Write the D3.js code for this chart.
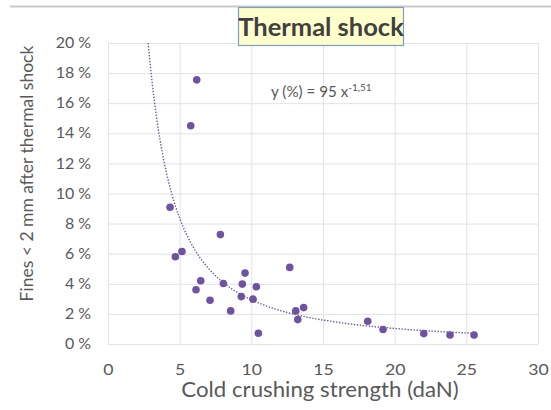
<!DOCTYPE html>
<html>
<head>
<meta charset="utf-8">
<script src="https://cdn.jsdelivr.net/npm/d3@7"></script>
<style>
  html, body { margin: 0; padding: 0; background: #fff; }
  svg { display: block; font-family: Lato, Calibri, "Open Sans", "Noto Sans", sans-serif; }
</style>
</head>
<body>
<svg id="chart" width="551" height="410"></svg>
<script>
// Cold crushing strength (daN) of each sample
const strength = [4.33, 6.19, 5.77, 4.70, 5.16, 7.84, 6.47, 6.14, 7.12, 8.05, 8.56, 9.56, 9.37, 9.30,
                  10.35, 10.12, 10.49, 12.68, 13.10, 13.65, 13.24, 18.12, 19.19, 22.03, 23.86, 25.54];
// Fines < 2 mm after thermal shock (%)
const fines = [9.09, 17.55, 14.5, 5.8, 6.15, 7.27, 4.2, 3.6, 2.91, 4.02, 2.2, 4.71, 3.98, 3.15,
               3.8, 2.98, 0.71, 5.09, 2.2, 2.42, 1.62, 1.51, 0.96, 0.69, 0.6, 0.6];
// Power-law fit y = a * x^b
const fitA = 95;
const fitB = -1.51;
const xTicks = [0, 5, 10, 15, 20, 25, 30];
const yTicks = [0, 2, 4, 6, 8, 10, 12, 14, 16, 18, 20];

const svg = d3.select("#chart");
const plotLeft = 108, plotRight = 538, plotTop = 43, plotBottom = 344;
const textGrey = "#595959";
const yTickStretch = 1.1;
const xTickStretch = 1.22;

const x = d3.scaleLinear().domain([0, 30]).range([plotLeft, plotRight]);
const y = d3.scaleLinear().domain([0, 20]).range([plotBottom, plotTop]);

// thin rule along the top of the slide
svg.append("line")
  .attr("x1", 10).attr("x2", 551).attr("y1", 6.5).attr("y2", 6.5)
  .attr("stroke", "#c9c9c9").attr("stroke-width", 2);

// grid
const grid = svg.append("g");
grid.selectAll("line.h").data(yTicks).join("line")
  .attr("x1", plotLeft).attr("x2", plotRight)
  .attr("y1", d => y(d) + 0.5).attr("y2", d => y(d) + 0.5)
  .attr("stroke", "#e2e2e6").attr("stroke-width", 1);
grid.selectAll("line.v").data(xTicks).join("line")
  .attr("y1", plotTop).attr("y2", plotBottom)
  .attr("x1", d => x(d) + 0.5).attr("x2", d => x(d) + 0.5)
  .attr("stroke", "#e2e2e6").attr("stroke-width", 1);

// axes (labels only, slightly widened glyphs)
const yAxis = d3.axisLeft(y).tickValues(yTicks).tickSize(0).tickPadding(0)
  .tickFormat(d => d + " %");
svg.append("g").attr("transform", `translate(${plotLeft},0)`).call(yAxis)
  .call(g => g.select(".domain").remove())
  .selectAll("text")
  .attr("x", -17 / yTickStretch)
  .attr("transform", `scale(${yTickStretch},1)`)
  .attr("fill", textGrey).style("font-size", "14.5px")
  .style("font-family", "Lato, Calibri, sans-serif");

const xAxis = d3.axisBottom(x).tickValues(xTicks).tickSize(0).tickPadding(21);
svg.append("g").attr("transform", `translate(0,${plotBottom})`).call(xAxis)
  .call(g => g.select(".domain").remove())
  .selectAll("text")
  .attr("transform", `scale(${xTickStretch},1)`)
  .attr("fill", textGrey).style("font-size", "14.5px")
  .style("font-family", "Lato, Calibri, sans-serif");

// trend line
const xStart = Math.pow(20 / fitA, 1 / fitB);
const xEnd = d3.max(strength);
const trend = d3.range(0, 201).map(i => {
  const xv = xStart + (xEnd - xStart) * Math.pow(i / 200, 2);
  return [xv, fitA * Math.pow(xv, fitB)];
});
svg.append("path")
  .datum(trend)
  .attr("d", d3.line().x(d => x(d[0])).y(d => y(d[1])))
  .attr("fill", "none")
  .attr("stroke", "#6a5aa0")
  .attr("stroke-width", 1.4)
  .attr("stroke-dasharray", "1.4,1.6");

// samples
svg.append("g").selectAll("circle")
  .data(strength.map((s, i) => [s, fines[i]]))
  .join("circle")
  .attr("cx", d => x(d[0]))
  .attr("cy", d => y(d[1]))
  .attr("r", 3.8)
  .attr("fill", "#7052a2");

// fit equation
const eq = svg.append("text")
  .attr("x", 271).attr("y", 97)
  .attr("fill", textGrey).style("font-size", "15.2px");
eq.append("tspan").text("y (%) = 95 x");
eq.append("tspan").attr("dy", -6.5).style("font-size", "10px").text("-1,51");

// title
svg.append("rect")
  .attr("x", 238.5).attr("y", 7.5).attr("width", 165).attr("height", 38)
  .attr("fill", "#ffffcc").attr("stroke", "#7f9cc6").attr("stroke-width", 1.2);
svg.append("text")
  .attr("x", 321).attr("y", 36)
  .attr("text-anchor", "middle")
  .attr("fill", "#404040")
  .style("font-size", "25.5px").style("font-weight", "bold")
  .text("Thermal shock");

// axis titles
svg.append("g")
  .attr("transform", `translate(${(plotLeft + plotRight) / 2 - 3},397)`)
  .append("text")
  .attr("transform", "scale(1.06,1)")
  .attr("text-anchor", "middle")
  .attr("fill", textGrey).style("font-size", "21px")
  .text("Cold crushing strength (daN)");
svg.append("text")
  .attr("transform", "translate(33,173.5) rotate(-90)")
  .attr("text-anchor", "middle")
  .attr("fill", textGrey).style("font-size", "17.5px")
  .text("Fines < 2 mm after thermal shock");
</script>
</body>
</html>
